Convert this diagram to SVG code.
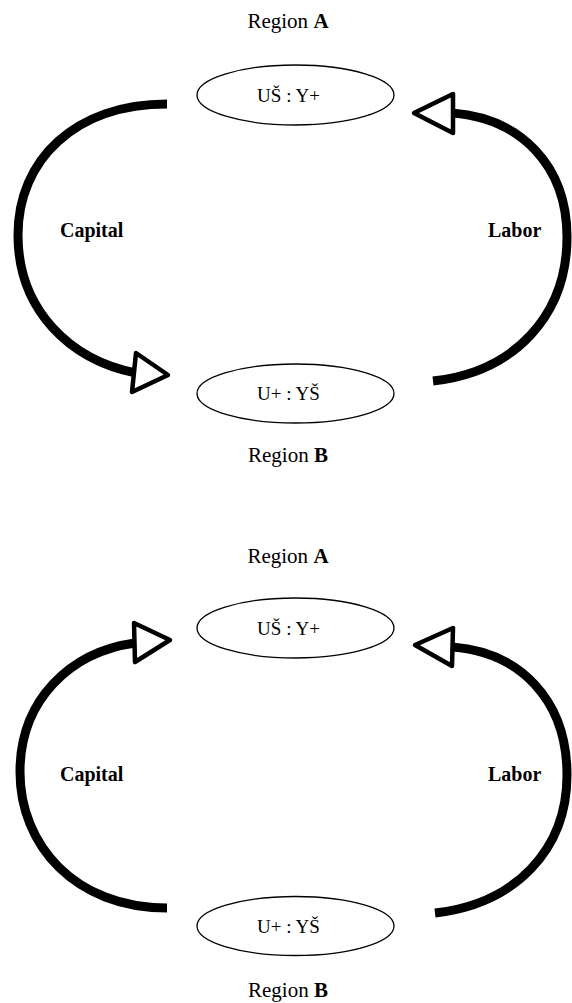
<svg xmlns="http://www.w3.org/2000/svg" width="572" height="1003" viewBox="0 0 572 1003">
<style>
.bg{fill:#fff}
.node{fill:#fff;stroke:#000;stroke-width:1.3}
.t{font-family:"Liberation Serif","Times New Roman",serif;fill:#000;text-anchor:middle}
.reg{font-size:21px}
.in{font-size:19px}
.lab{font-family:"Liberation Serif","Times New Roman",serif;font-size:20px;font-weight:bold;fill:#000}
.arc{fill:none;stroke:#000;stroke-width:9;stroke-linecap:butt}
.head{fill:#fff;stroke:#000;stroke-width:4.5;stroke-linejoin:round}
</style>
<rect class="bg" x="0" y="0" width="572" height="1003"/>

<g id="diagram1">
  <text class="t reg" x="288" y="28">Region <tspan font-weight="bold">A</tspan></text>
  <g id="d1-regionA">
    <ellipse class="node" cx="295.5" cy="95" rx="98.5" ry="30"/>
    <text class="t in" x="288.5" y="102">UŠ : Y+</text>
  </g>
  <g id="d1-regionB">
    <ellipse class="node" cx="295.5" cy="393.5" rx="98.5" ry="29.5"/>
    <text class="t in" x="288.5" y="400">U+ : YŠ</text>
  </g>
  <text class="t reg" x="288" y="462">Region <tspan font-weight="bold">B</tspan></text>
  <g id="d1-connectors">
    <path class="arc" d="M167,104 C75,104 18,160 18,235 C18,310 70,360 136,373"/>
    <polygon class="head" points="136,353 168,375 132,392"/>
    <text class="lab" x="60" y="237">Capital</text>
    <path class="arc" d="M433,381 C515,372 567,315 567,237 C567,165 520,118 452,113"/>
    <polygon class="head" points="414,113 453,94 453,133"/>
    <text class="lab" x="488" y="237">Labor</text>
  </g>
</g>

<g id="diagram2">
  <text class="t reg" x="288" y="563">Region <tspan font-weight="bold">A</tspan></text>
  <g id="d2-regionA">
    <ellipse class="node" cx="295.5" cy="628" rx="98.5" ry="30"/>
    <text class="t in" x="288.5" y="635">UŠ : Y+</text>
  </g>
  <g id="d2-regionB">
    <ellipse class="node" cx="295.5" cy="926" rx="98.5" ry="29.5"/>
    <text class="t in" x="288.5" y="933">U+ : YŠ</text>
  </g>
  <text class="t reg" x="288" y="997">Region <tspan font-weight="bold">B</tspan></text>
  <g id="d2-connectors">
    <path class="arc" d="M167,908 C75,908 20,845 20,772 C20,700 70,652 135,643"/>
    <polygon class="head" points="134,623 170,640 135,662"/>
    <text class="lab" x="60" y="781">Capital</text>
    <path class="arc" d="M435,913 C515,904 567,850 567,775 C567,700 520,652 452,647"/>
    <polygon class="head" points="415,645 453,628 452,666"/>
    <text class="lab" x="488" y="781">Labor</text>
  </g>
</g>
</svg>
